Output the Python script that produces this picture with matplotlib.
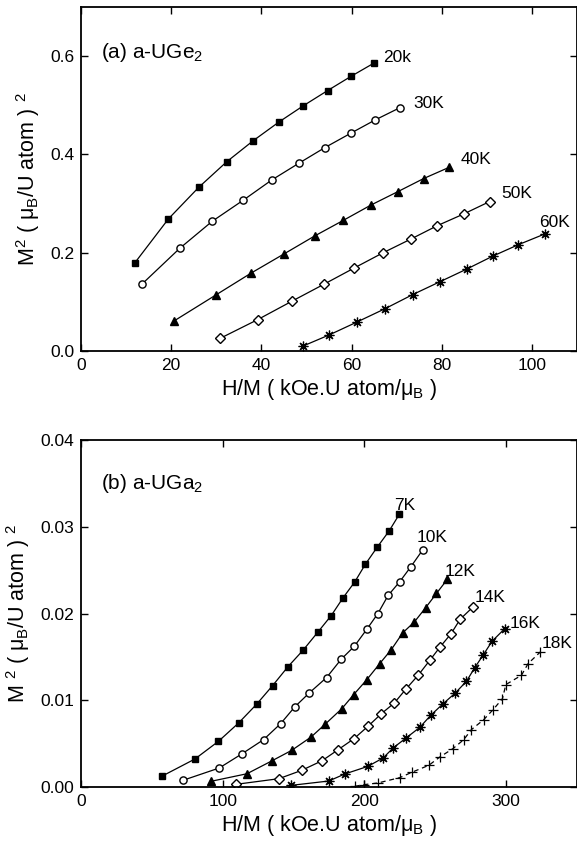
import numpy as np
import matplotlib.pyplot as plt
from matplotlib.ticker import FormatStrFormatter

plt.rcParams['font.family'] = ['Liberation Sans', 'DejaVu Sans']
plt.rcParams['mathtext.fontset'] = 'custom'
plt.rcParams['mathtext.rm'] = 'Liberation Sans'
plt.rcParams['mathtext.it'] = 'Liberation Sans:italic'

# ---- (a) a-UGe2 : H/M vs M^2 ----
ge_20_x = [11.9, 19.4, 26.1, 32.3, 38.2, 43.9, 49.3, 54.7, 59.9, 65.0]
ge_20_y = [0.179, 0.269, 0.333, 0.385, 0.428, 0.466, 0.499, 0.530, 0.559, 0.586]
ge_30_x = [13.5, 21.9, 29.1, 36.0, 42.3, 48.3, 54.1, 59.8, 65.2, 70.7]
ge_30_y = [0.136, 0.209, 0.264, 0.307, 0.348, 0.382, 0.414, 0.443, 0.470, 0.495]
ge_40_x = [20.6, 29.9, 37.8, 45.1, 51.8, 58.2, 64.3, 70.2, 76.0, 81.7]
ge_40_y = [0.061, 0.114, 0.159, 0.198, 0.234, 0.266, 0.297, 0.324, 0.351, 0.374]
ge_50_x = [30.9, 39.2, 46.9, 53.9, 60.6, 67.0, 73.2, 79.0, 84.9, 90.6]
ge_50_y = [0.026, 0.064, 0.102, 0.136, 0.169, 0.200, 0.228, 0.255, 0.279, 0.304]
ge_60_x = [49.2, 55.1, 61.2, 67.4, 73.6, 79.6, 85.6, 91.3, 96.9, 102.8]
ge_60_y = [0.010, 0.033, 0.059, 0.086, 0.115, 0.141, 0.167, 0.193, 0.216, 0.238]
ge_labels = ['20k', '30K', '40K', '50K', '60K']
ge_label_pos = [(67.0, 0.597), (73.7, 0.503), (84.2, 0.389), (93.1, 0.320), (101.5, 0.261)]

# ---- (b) a-UGa2 ----
ga_7_x = [56.9, 80.4, 97.0, 111.2, 123.9, 135.2, 146.1, 156.7, 167.1, 176.6,
          184.9, 193.2, 200.7, 208.9, 217.5, 224.7]
ga_7_y = [0.00123, 0.00323, 0.00527, 0.00738, 0.00954, 0.01169, 0.01388, 0.01577,
          0.01785, 0.01977, 0.02181, 0.02365, 0.02569, 0.02762, 0.02954, 0.03146]
ga_10_x = [71.9, 97.5, 113.8, 128.8, 140.9, 150.8, 161.1, 173.3, 183.6, 192.9,
           201.7, 209.5, 216.7, 225.0, 232.7, 241.0]
ga_10_y = [0.00077, 0.00219, 0.00385, 0.00546, 0.00731, 0.00923, 0.01085, 0.01262,
           0.01473, 0.01623, 0.01819, 0.0200, 0.02208, 0.02369, 0.02538, 0.02731]
ga_12_x = [91.5, 117.1, 134.5, 148.7, 162.4, 172.2, 184.1, 192.4, 201.7, 210.8,
           219.0, 227.0, 235.3, 243.1, 250.8, 258.6]
ga_12_y = [0.00065, 0.00153, 0.0030, 0.00423, 0.00577, 0.00723, 0.00904, 0.01065,
           0.01238, 0.01423, 0.01585, 0.01777, 0.01904, 0.02065, 0.02231, 0.02396]
ga_14_x = [109.4, 139.6, 155.7, 170.2, 181.5, 192.7, 202.5, 212.0, 221.1, 229.6,
           237.9, 246.2, 253.4, 261.2, 267.6, 276.7]
ga_14_y = [0.00031, 0.00096, 0.00192, 0.00304, 0.00431, 0.00558, 0.0070, 0.00846,
           0.00969, 0.01135, 0.01288, 0.01462, 0.01615, 0.01769, 0.01935, 0.02077]
ga_16_x = [148.2, 174.8, 186.1, 202.4, 213.2, 220.5, 229.4, 239.1, 246.8, 255.1,
           264.2, 272.0, 277.9, 284.0, 290.1, 299.1]
ga_16_y = [0.00019, 0.00069, 0.0015, 0.00238, 0.00335, 0.00454, 0.00565, 0.00688,
           0.00827, 0.00954, 0.01085, 0.01219, 0.01377, 0.01527, 0.01681, 0.01827]
ga_18_x = [193.2, 199.5, 209.4, 224.9, 233.9, 245.4, 253.2, 262.4, 270.1, 275.5,
           284.2, 290.8, 297.4, 299.8, 310.8, 315.5, 324.2]
ga_18_y = [0.00008, 0.00027, 0.00046, 0.00108, 0.00173, 0.0025, 0.00346, 0.00442,
           0.00546, 0.00662, 0.00777, 0.00892, 0.01019, 0.01181, 0.01288, 0.01423, 0.01558]
ga_labels = ['7K', '10K', '12K', '14K', '16K', '18K']
ga_label_pos = [(221.0, 0.0324), (236.6, 0.0288), (256.5, 0.0249),
                (278.0, 0.0219), (302.6, 0.0188), (325.3, 0.0166)]

# marker, facecolor, linestyle, size, edge width
styles = [('s', 'k', '-', 5.0, 1.0), ('o', 'w', '-', 5.2, 1.0), ('^', 'k', '-', 6.0, 1.0),
          ('D', 'w', '-', 4.8, 1.0), ((8, 2, 0), 'k', '-', 7.0, 0.9),
          ('+', 'k', '--', 6.5, 0.9)]

fig = plt.figure(figsize=(5.77, 8.42), dpi=100)
ax1 = fig.add_axes([0.1404, 0.5831, 0.8596, 0.4086])
ax2 = fig.add_axes([0.1404, 0.0653, 0.8596, 0.4121])

def draw(ax, xs, ys):
    for i, (x, y) in enumerate(zip(xs, ys)):
        m, fc, ls, ms, mew = styles[i]
        line, = ax.plot(x, y, color='k', lw=0.9, ls=ls, marker=m, ms=ms,
                        mfc=fc, mec='k', mew=mew)
        if ls == '--':
            line.set_dashes((4, 3))

draw(ax1, [ge_20_x, ge_30_x, ge_40_x, ge_50_x, ge_60_x],
     [ge_20_y, ge_30_y, ge_40_y, ge_50_y, ge_60_y])
draw(ax2, [ga_7_x, ga_10_x, ga_12_x, ga_14_x, ga_16_x, ga_18_x],
     [ga_7_y, ga_10_y, ga_12_y, ga_14_y, ga_16_y, ga_18_y])

for lab, (x, y) in zip(ge_labels, ge_label_pos):
    ax1.text(x, y, lab, fontsize=12.5, va='center', ha='left')
for lab, (x, y) in zip(ga_labels, ga_label_pos):
    ax2.text(x, y, lab, fontsize=12.5, va='center', ha='left')

ax1.text(4.4, 0.607, r'(a) a-UGe$_2$', fontsize=15, va='center', ha='left')
ax2.text(14.2, 0.035, r'(b) a-UGa$_2$', fontsize=15, va='center', ha='left')

xlab = r'H/M ( kOe.U atom/μ$_{\mathrm{B}}$ )'
ax1.set_xlim(0, 110)
ax1.set_ylim(0, 0.7)
ax1.set_xticks([0, 20, 40, 60, 80, 100])
ax1.set_yticks([0.0, 0.2, 0.4, 0.6])
ax1.yaxis.set_major_formatter(FormatStrFormatter('%.1f'))
ax1.set_xlabel(xlab, fontsize=15.5, labelpad=3)
ax1.set_ylabel(r'M$^2$ ( μ$_{\mathrm{B}}$/U atom ) $^2$', fontsize=15.5, labelpad=6)

ax2.set_xlim(0, 350)
ax2.set_ylim(0, 0.04)
ax2.set_xticks([0, 100, 200, 300])
ax2.set_yticks([0.0, 0.01, 0.02, 0.03, 0.04])
ax2.yaxis.set_major_formatter(FormatStrFormatter('%.2f'))
ax2.set_xlabel(xlab, fontsize=15.5, labelpad=3)
ax2.set_ylabel(r'M $^2$ ( μ$_{\mathrm{B}}$/U atom ) $^2$', fontsize=15.5, labelpad=6)

for ax in (ax1, ax2):
    ax.tick_params(direction='in', top=True, right=True, length=5, width=1.0,
                   labelsize=12.5, pad=5)
    for sp in ax.spines.values():
        sp.set_linewidth(1.3)

plt.savefig('out.png', dpi=100)
plt.close()
